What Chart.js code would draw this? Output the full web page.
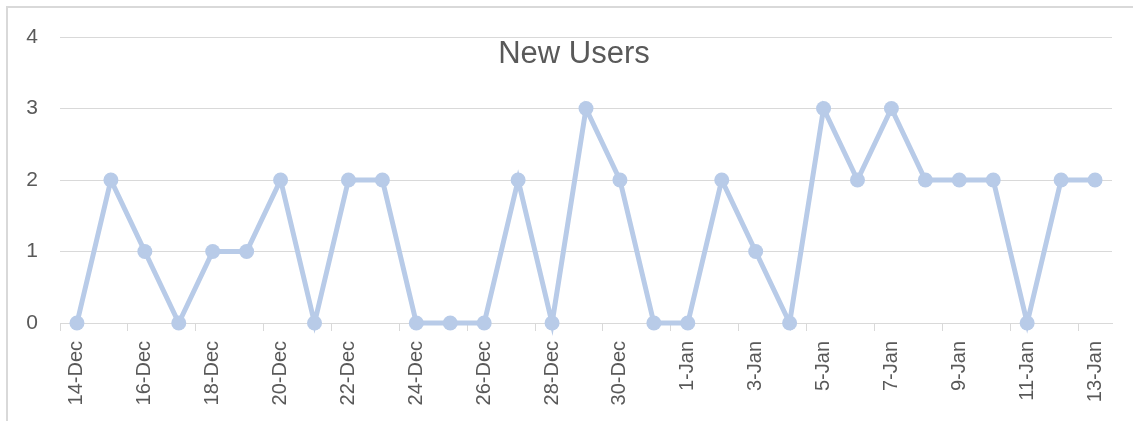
<!DOCTYPE html>
<html>
<head>
<meta charset="utf-8">
<script src="https://cdn.jsdelivr.net/npm/chart.js@4/dist/chart.umd.min.js"></script>
<style>
  html, body { margin: 0; padding: 0; background: #fff; }
  #frame {
    position: absolute; left: 6px; top: 6px; width: 1127px; height: 415px;
    border-left: 2px solid #d9d9d9; border-top: 2px solid #d9d9d9;
  }
  #wrap { position: absolute; left: 0; top: 0; width: 1133px; height: 421px; }
</style>
</head>
<body>
<div id="frame"></div>
<div id="wrap"><canvas id="grafico"></canvas></div>
<script>
// dados do gráfico
const dias = [
  '14-Dec', '15-Dec', '16-Dec', '17-Dec', '18-Dec', '19-Dec', '20-Dec', '21-Dec',
  '22-Dec', '23-Dec', '24-Dec', '25-Dec', '26-Dec', '27-Dec', '28-Dec', '29-Dec',
  '30-Dec', '31-Dec', '1-Jan', '2-Jan', '3-Jan', '4-Jan', '5-Jan', '6-Jan',
  '7-Jan', '8-Jan', '9-Jan', '10-Jan', '11-Jan', '12-Jan', '13-Jan'
];
const novosUsuarios = [
  0, 2, 1, 0, 1, 1, 2, 0,
  2, 2, 0, 0, 0, 2, 0, 3,
  2, 0, 0, 2, 1, 0, 3, 2,
  3, 2, 2, 2, 0, 2, 2
];
const ticksY = [0, 1, 2, 3, 4];
const titulo = 'New Users';

const corTexto = '#595959';
const corGrade = '#d9d9d9';
const corLinha = '#b8cbe8';

// título desenhado por cima da área do gráfico, como no Excel
const tituloSobreposto = {
  id: 'tituloSobreposto',
  afterDraw(chart) {
    const ctx = chart.ctx;
    const area = chart.chartArea;
    ctx.save();
    ctx.font = '31px "Liberation Sans", Arial, sans-serif';
    ctx.fillStyle = corTexto;
    ctx.textAlign = 'center';
    ctx.textBaseline = 'middle';
    ctx.fillText(titulo, (area.left + area.right) / 2 - 12, 54);
    ctx.restore();
  }
};

const ctx = document.getElementById('grafico');
new Chart(ctx, {
  type: 'line',
  data: {
    labels: dias,
    datasets: [{
      label: titulo,
      data: novosUsuarios,
      borderColor: corLinha,
      backgroundColor: corLinha,
      borderWidth: 5,
      pointRadius: 7.5,
      pointHoverRadius: 7.5,
      pointBorderWidth: 0,
      tension: 0,
      clip: false
    }]
  },
  options: {
    responsive: true,
    maintainAspectRatio: false,
    animation: false,
    layout: { padding: { top: 37, right: 21, bottom: 0, left: 0 } },
    plugins: {
      legend: { display: false },
      title: { display: false },
      tooltip: { enabled: false }
    },
    scales: {
      x: {
        type: 'category',
        offset: true,
        afterFit: (scale) => { scale.height = 98; },
        grid: {
          offset: true,
          drawOnChartArea: false,
          tickLength: 8,
          lineWidth: 1,
          color: (c) => (c.index % 2 === 0 ? corGrade : 'rgba(0,0,0,0)')
        },
        border: { display: true, color: corGrade, width: 1 },
        ticks: {
          autoSkip: false,
          maxRotation: 90,
          minRotation: 90,
          padding: 10,
          color: corTexto,
          font: { family: '"Liberation Sans", Arial, sans-serif', size: 20 },
          callback: function (value, index) {
            return index % 2 === 0 ? this.getLabelForValue(value) : '';
          }
        }
      },
      y: {
        min: 0,
        max: 4,
        afterFit: (scale) => { scale.width = 60; },
        afterBuildTicks: (scale) => { scale.ticks = ticksY.map(v => ({ value: v })); },
        grid: { color: corGrade, lineWidth: 1, drawTicks: false },
        border: { display: false },
        ticks: {
          padding: 22,
          color: corTexto,
          font: { family: '"Liberation Sans", Arial, sans-serif', size: 21 }
        }
      }
    }
  },
  plugins: [tituloSobreposto]
});
</script>
</body>
</html>
